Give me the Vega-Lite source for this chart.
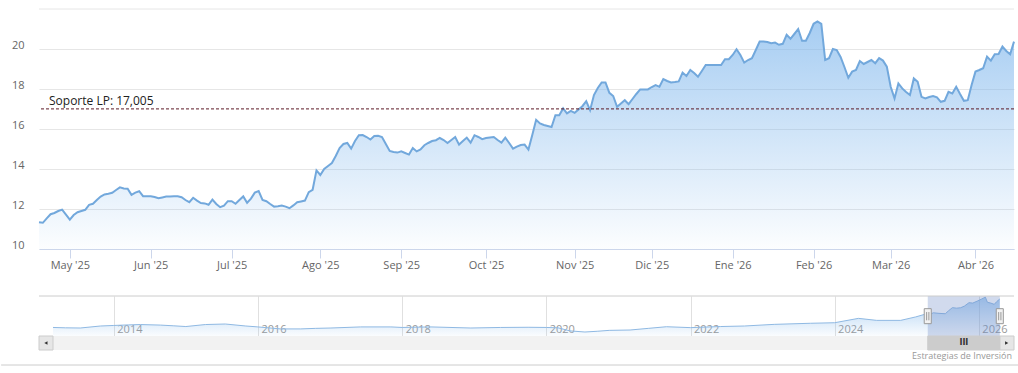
{
  "$schema": "https://vega.github.io/schema/vega-lite/v6.json",
  "background": "#ffffff",
  "padding": {"left": 0, "top": 8, "right": 0, "bottom": 0},
  "config": {
    "view": {"stroke": null},
    "font": "Open Sans",
    "axis": {"labelFont": "Open Sans", "titleFont": "Open Sans"},
    "text": {"font": "Open Sans"}
  },
  "datasets": {
    "main": [
      {"date":"2025-04-17","price":11.34},{"date":"2025-04-22","price":11.31},{"date":"2025-04-23","price":11.53},{"date":"2025-04-24","price":11.74},{"date":"2025-04-25","price":11.80},{"date":"2025-04-28","price":11.90},{"date":"2025-04-29","price":11.97},{"date":"2025-04-30","price":11.72},
      {"date":"2025-05-02","price":11.47},{"date":"2025-05-05","price":11.70},{"date":"2025-05-06","price":11.84},{"date":"2025-05-07","price":11.90},{"date":"2025-05-08","price":11.96},{"date":"2025-05-09","price":12.21},{"date":"2025-05-12","price":12.26},{"date":"2025-05-13","price":12.45},{"date":"2025-05-14","price":12.62},{"date":"2025-05-15","price":12.73},{"date":"2025-05-16","price":12.76},{"date":"2025-05-19","price":12.81},{"date":"2025-05-20","price":12.95},{"date":"2025-05-21","price":13.08},{"date":"2025-05-22","price":13.03},{"date":"2025-05-23","price":13.01},{"date":"2025-05-26","price":12.71},{"date":"2025-05-27","price":12.82},{"date":"2025-05-28","price":12.89},{"date":"2025-05-29","price":12.64},{"date":"2025-05-30","price":12.64},
      {"date":"2025-06-02","price":12.64},{"date":"2025-06-03","price":12.60},{"date":"2025-06-04","price":12.54},{"date":"2025-06-05","price":12.58},{"date":"2025-06-06","price":12.62},{"date":"2025-06-09","price":12.63},{"date":"2025-06-10","price":12.64},{"date":"2025-06-11","price":12.64},{"date":"2025-06-12","price":12.59},{"date":"2025-06-13","price":12.45},{"date":"2025-06-16","price":12.34},{"date":"2025-06-17","price":12.56},{"date":"2025-06-18","price":12.42},{"date":"2025-06-19","price":12.30},{"date":"2025-06-20","price":12.28},{"date":"2025-06-23","price":12.21},{"date":"2025-06-24","price":12.47},{"date":"2025-06-25","price":12.25},{"date":"2025-06-26","price":12.09},{"date":"2025-06-27","price":12.17},{"date":"2025-06-30","price":12.39},
      {"date":"2025-07-01","price":12.39},{"date":"2025-07-02","price":12.26},{"date":"2025-07-03","price":12.45},{"date":"2025-07-04","price":12.63},{"date":"2025-07-07","price":12.31},{"date":"2025-07-08","price":12.52},{"date":"2025-07-09","price":12.82},{"date":"2025-07-10","price":12.90},{"date":"2025-07-11","price":12.45},{"date":"2025-07-14","price":12.39},{"date":"2025-07-15","price":12.25},{"date":"2025-07-16","price":12.12},{"date":"2025-07-17","price":12.14},{"date":"2025-07-18","price":12.17},{"date":"2025-07-21","price":12.12},{"date":"2025-07-22","price":12.04},{"date":"2025-07-23","price":12.18},{"date":"2025-07-24","price":12.34},{"date":"2025-07-25","price":12.38},{"date":"2025-07-28","price":12.42},{"date":"2025-07-29","price":12.84},{"date":"2025-07-30","price":12.96},{"date":"2025-07-31","price":13.93},
      {"date":"2025-08-01","price":13.70},{"date":"2025-08-04","price":14.00},{"date":"2025-08-05","price":14.15},{"date":"2025-08-06","price":14.30},{"date":"2025-08-07","price":14.65},{"date":"2025-08-08","price":15.05},{"date":"2025-08-11","price":15.25},{"date":"2025-08-12","price":15.30},{"date":"2025-08-13","price":15.02},{"date":"2025-08-14","price":15.40},{"date":"2025-08-15","price":15.69},{"date":"2025-08-18","price":15.70},{"date":"2025-08-19","price":15.60},{"date":"2025-08-20","price":15.47},{"date":"2025-08-21","price":15.65},{"date":"2025-08-22","price":15.66},{"date":"2025-08-25","price":15.60},{"date":"2025-08-26","price":15.25},{"date":"2025-08-27","price":14.90},{"date":"2025-08-28","price":14.85},{"date":"2025-08-29","price":14.82},
      {"date":"2025-09-01","price":14.88},{"date":"2025-09-02","price":14.80},{"date":"2025-09-03","price":14.72},{"date":"2025-09-04","price":15.05},{"date":"2025-09-05","price":14.88},{"date":"2025-09-08","price":14.98},{"date":"2025-09-09","price":15.19},{"date":"2025-09-10","price":15.30},{"date":"2025-09-11","price":15.40},{"date":"2025-09-12","price":15.44},{"date":"2025-09-15","price":15.55},{"date":"2025-09-16","price":15.45},{"date":"2025-09-17","price":15.30},{"date":"2025-09-18","price":15.45},{"date":"2025-09-19","price":15.60},{"date":"2025-09-22","price":15.22},{"date":"2025-09-23","price":15.40},{"date":"2025-09-24","price":15.57},{"date":"2025-09-25","price":15.32},{"date":"2025-09-26","price":15.69},{"date":"2025-09-29","price":15.60},{"date":"2025-09-30","price":15.49},
      {"date":"2025-10-01","price":15.55},{"date":"2025-10-02","price":15.58},{"date":"2025-10-03","price":15.60},{"date":"2025-10-06","price":15.45},{"date":"2025-10-07","price":15.32},{"date":"2025-10-08","price":15.57},{"date":"2025-10-09","price":15.30},{"date":"2025-10-10","price":15.02},{"date":"2025-10-13","price":15.12},{"date":"2025-10-14","price":15.20},{"date":"2025-10-15","price":15.22},{"date":"2025-10-16","price":14.97},{"date":"2025-10-17","price":15.70},{"date":"2025-10-20","price":16.46},{"date":"2025-10-21","price":16.28},{"date":"2025-10-22","price":16.20},{"date":"2025-10-23","price":16.15},{"date":"2025-10-24","price":16.10},{"date":"2025-10-27","price":16.69},{"date":"2025-10-28","price":16.69},{"date":"2025-10-29","price":17.03},{"date":"2025-10-30","price":16.78},{"date":"2025-10-31","price":16.91},
      {"date":"2025-11-03","price":16.81},{"date":"2025-11-04","price":16.98},{"date":"2025-11-05","price":17.14},{"date":"2025-11-06","price":17.39},{"date":"2025-11-07","price":16.94},{"date":"2025-11-10","price":17.70},{"date":"2025-11-11","price":18.05},{"date":"2025-11-12","price":18.33},{"date":"2025-11-13","price":18.33},{"date":"2025-11-14","price":17.81},{"date":"2025-11-17","price":17.65},{"date":"2025-11-18","price":17.11},{"date":"2025-11-19","price":17.28},{"date":"2025-11-20","price":17.44},{"date":"2025-11-21","price":17.24},{"date":"2025-11-24","price":17.50},{"date":"2025-11-25","price":17.75},{"date":"2025-11-26","price":17.98},{"date":"2025-11-27","price":17.98},{"date":"2025-11-28","price":17.98},
      {"date":"2025-12-01","price":18.10},{"date":"2025-12-02","price":18.20},{"date":"2025-12-03","price":18.11},{"date":"2025-12-04","price":18.50},{"date":"2025-12-05","price":18.40},{"date":"2025-12-08","price":18.33},{"date":"2025-12-09","price":18.35},{"date":"2025-12-10","price":18.38},{"date":"2025-12-11","price":18.82},{"date":"2025-12-12","price":18.65},{"date":"2025-12-15","price":18.95},{"date":"2025-12-16","price":18.80},{"date":"2025-12-17","price":18.61},{"date":"2025-12-18","price":18.90},{"date":"2025-12-19","price":19.20},{"date":"2025-12-22","price":19.20},{"date":"2025-12-23","price":19.20},{"date":"2025-12-24","price":19.20},{"date":"2025-12-29","price":19.20},{"date":"2025-12-30","price":19.49},{"date":"2025-12-31","price":19.49},
      {"date":"2026-01-02","price":19.70},{"date":"2026-01-05","price":19.99},{"date":"2026-01-06","price":19.70},{"date":"2026-01-07","price":19.32},{"date":"2026-01-08","price":19.45},{"date":"2026-01-09","price":19.54},{"date":"2026-01-12","price":19.95},{"date":"2026-01-13","price":20.37},{"date":"2026-01-14","price":20.37},{"date":"2026-01-15","price":20.35},{"date":"2026-01-16","price":20.29},{"date":"2026-01-19","price":20.32},{"date":"2026-01-20","price":20.21},{"date":"2026-01-21","price":20.26},{"date":"2026-01-22","price":20.71},{"date":"2026-01-23","price":20.51},{"date":"2026-01-26","price":20.75},{"date":"2026-01-27","price":21.00},{"date":"2026-01-28","price":20.41},{"date":"2026-01-29","price":20.41},{"date":"2026-01-30","price":20.80},
      {"date":"2026-02-02","price":21.26},{"date":"2026-02-03","price":21.38},{"date":"2026-02-04","price":21.26},{"date":"2026-02-05","price":19.45},{"date":"2026-02-06","price":19.54},{"date":"2026-02-09","price":20.00},{"date":"2026-02-10","price":19.95},{"date":"2026-02-11","price":19.60},{"date":"2026-02-12","price":19.10},{"date":"2026-02-13","price":18.56},{"date":"2026-02-16","price":18.87},{"date":"2026-02-17","price":18.95},{"date":"2026-02-18","price":19.40},{"date":"2026-02-19","price":19.25},{"date":"2026-02-20","price":19.35},{"date":"2026-02-23","price":19.45},{"date":"2026-02-24","price":19.29},{"date":"2026-02-25","price":19.54},{"date":"2026-02-26","price":19.42},{"date":"2026-02-27","price":19.12},
      {"date":"2026-03-02","price":18.11},{"date":"2026-03-03","price":17.53},{"date":"2026-03-04","price":18.28},{"date":"2026-03-05","price":18.03},{"date":"2026-03-06","price":17.85},{"date":"2026-03-09","price":17.70},{"date":"2026-03-10","price":18.53},{"date":"2026-03-11","price":18.36},{"date":"2026-03-12","price":17.61},{"date":"2026-03-13","price":17.53},{"date":"2026-03-16","price":17.60},{"date":"2026-03-17","price":17.65},{"date":"2026-03-18","price":17.58},{"date":"2026-03-19","price":17.36},{"date":"2026-03-20","price":17.41},{"date":"2026-03-23","price":17.86},{"date":"2026-03-24","price":17.78},{"date":"2026-03-25","price":18.11},{"date":"2026-03-26","price":17.75},{"date":"2026-03-27","price":17.41},{"date":"2026-03-30","price":17.44},{"date":"2026-03-31","price":18.20},
      {"date":"2026-04-01","price":18.87},{"date":"2026-04-02","price":18.95},{"date":"2026-04-07","price":19.04},{"date":"2026-04-08","price":19.62},{"date":"2026-04-09","price":19.42},{"date":"2026-04-10","price":19.74},{"date":"2026-04-13","price":19.75},{"date":"2026-04-14","price":20.12},{"date":"2026-04-15","price":19.90},{"date":"2026-04-16","price":19.74},{"date":"2026-04-17","price":20.37}
    ],
    "nav": [
      {"date":"2013-02-27","price":4.7},{"date":"2013-05-01","price":4.5},{"date":"2013-07-15","price":4.4},{"date":"2013-10-25","price":5.5},{"date":"2014-01-01","price":5.8},{"date":"2014-03-15","price":6.1},{"date":"2014-05-15","price":6.3},{"date":"2014-08-25","price":6.0},{"date":"2014-11-01","price":5.6},{"date":"2015-01-01","price":5.2},{"date":"2015-04-10","price":6.3},{"date":"2015-07-20","price":6.6},{"date":"2015-11-01","price":5.5},{"date":"2016-01-01","price":5.0},{"date":"2016-04-25","price":3.9},{"date":"2016-08-05","price":3.9},{"date":"2016-10-20","price":4.2},{"date":"2017-01-05","price":4.4},{"date":"2017-06-05","price":5.0},{"date":"2017-11-05","price":5.0},{"date":"2018-01-01","price":4.7},{"date":"2018-05-25","price":5.0},{"date":"2018-12-15","price":4.4},{"date":"2019-05-15","price":4.7},{"date":"2019-10-01","price":4.8},{"date":"2020-01-01","price":4.7},{"date":"2020-03-01","price":4.5},{"date":"2020-05-01","price":2.8},{"date":"2020-07-15","price":2.2},{"date":"2020-09-15","price":2.6},{"date":"2020-11-15","price":3.1},{"date":"2021-03-01","price":3.3},{"date":"2021-06-01","price":4.2},{"date":"2021-09-01","price":5.1},{"date":"2022-01-01","price":4.6},{"date":"2022-06-01","price":5.2},{"date":"2022-10-01","price":5.5},{"date":"2023-03-01","price":6.4},{"date":"2023-09-01","price":7.0},{"date":"2024-01-01","price":7.3},{"date":"2024-05-01","price":9.7},{"date":"2024-08-01","price":8.6},{"date":"2024-12-01","price":8.6},{"date":"2025-02-15","price":10.5},{"date":"2025-04-01","price":11.9},{"date":"2025-04-17","price":11.34},{"date":"2025-05-15","price":12.76},{"date":"2025-06-13","price":12.45},{"date":"2025-07-15","price":12.25},{"date":"2025-08-01","price":13.93},{"date":"2025-08-20","price":15.6},{"date":"2025-09-10","price":15.3},{"date":"2025-10-01","price":15.55},{"date":"2025-10-20","price":16.46},{"date":"2025-11-12","price":18.33},{"date":"2025-12-01","price":18.1},{"date":"2025-12-24","price":19.2},{"date":"2026-01-15","price":20.35},{"date":"2026-02-03","price":21.38},{"date":"2026-02-13","price":18.56},{"date":"2026-03-02","price":18.11},{"date":"2026-03-20","price":17.41},{"date":"2026-04-01","price":18.87},{"date":"2026-04-17","price":20.37}
    ]
  },
  "spacing": 47,
  "bounds": "flush",
  "vconcat": [
    {
      "width": 975,
      "height": 240,
      "encoding": {
        "y": {"field": "price", "type": "quantitative",
          "scale": {"domain": [10, 22], "nice": false, "zero": false},
          "axis": {
            "title": null, "values": [10, 12, 14, 16, 18, 20],
            "domain": false, "ticks": false, "gridColor": "#e6e6e6",
            "labelPadding": 15, "labelColor": "#666666", "labelFontSize": 11,
            "labelBaseline": "alphabetic", "labelOffset": -1, "labelOverlap": false
          }}
      },
      "layer": [
        {
          "data": {"values": [{"price": 22}]},
          "mark": {"type": "rule", "color": "#e6e6e6", "strokeWidth": 1}
        },
        {
          "data": {"name": "main"},
          "mark": {
            "type": "area",
            "color": {"gradient": "linear", "x1": 0, "y1": 0, "x2": 0, "y2": 1,
              "stops": [{"offset": 0, "color": "rgba(124,181,236,0.97)"}, {"offset": 1, "color": "rgba(124,181,236,0.03)"}]},
            "line": {"color": "#72a8dc", "strokeWidth": 2}
          },
          "encoding": {
            "x": {"field": "date", "type": "ordinal", "scale": {"type": "point", "padding": 0},
              "axis": {
                "title": null,
                "values": ["2025-05-02","2025-06-02","2025-07-01","2025-08-01","2025-09-01","2025-10-01","2025-11-03","2025-12-01","2026-01-02","2026-02-02","2026-03-02","2026-04-01"],
                "labelExpr": "['Ene','Feb','Mar','Abr','May','Jun','Jul','Ago','Sep','Oct','Nov','Dic'][toNumber(substring(datum.value,5,7))-1] + \" '\" + substring(datum.value,2,4)",
                "labelAngle": 0, "grid": false,
                "domainColor": "#ccd6eb", "tickColor": "#ccd6eb", "tickSize": 9,
                "labelPadding": 1, "labelColor": "#666666", "labelFontSize": 11, "labelOverlap": false
              }},
            "y2": {"datum": 10}
          }
        },
        {
          "data": {"values": [{"date": "2025-04-17", "price": 17.005, "label": "Soporte LP: 17,005"}]},
          "mark": {"type": "rule", "color": "#5c1a26", "strokeDash": [3, 2], "strokeWidth": 1}
        },
        {
          "data": {"values": [{"date": "2025-04-17", "price": 17.005, "label": "Soporte LP: 17,005"}]},
          "mark": {"type": "text", "align": "left", "baseline": "alphabetic", "dx": 10, "dy": -4, "fontSize": 12, "color": "#222222"},
          "encoding": {
            "x": {"field": "date", "type": "ordinal"},
            "text": {"field": "label"}
          }
        }
      ]
    },
    {
      "spacing": 0,
      "bounds": "flush",
      "vconcat": [
        {
          "width": 975,
          "height": 40,
          "layer": [
            {
              "data": {"name": "nav"},
              "mark": {
                "type": "area",
                "color": {"gradient": "linear", "x1": 0, "y1": 0, "x2": 0, "y2": 1,
                  "stops": [{"offset": 0, "color": "rgba(124,181,236,0.9)"}, {"offset": 1, "color": "rgba(124,181,236,0.05)"}]},
                "line": {"color": "#8fb9e3", "strokeWidth": 1}
              },
              "encoding": {
                "x": {"field": "date", "type": "temporal",
                  "scale": {"domain": [{"year": 2012, "month": 12, "date": 18}, {"year": 2026, "month": 6, "date": 28}]},
                  "axis": {
                    "title": null,
                    "values": [{"year": 2014, "month": 1, "date": 1}, {"year": 2016, "month": 1, "date": 1}, {"year": 2018, "month": 1, "date": 1}, {"year": 2020, "month": 1, "date": 1}, {"year": 2022, "month": 1, "date": 1}, {"year": 2024, "month": 1, "date": 1}, {"year": 2026, "month": 1, "date": 1}],
                    "format": "%Y", "grid": true, "gridColor": "#e0e0e0", "domain": false, "ticks": false, "tickSize": 0,
                    "labelAlign": "left", "labelOffset": 3, "labelPadding": -4, "labelBaseline": "alphabetic",
                    "labelColor": "#999999", "labelFontSize": 11, "labelFlush": false, "labelOverlap": false
                  }},
                "y": {"field": "price", "type": "quantitative", "scale": {"domain": [0, 22], "nice": false, "zero": false}, "axis": null},
                "y2": {"datum": 0}
              }
            },
            {
              "data": {"values": [{"start": "2025-04-17", "end": "2026-04-17", "lo": 0, "hi": 22}]},
              "mark": {"type": "rect", "color": "#6685c2", "opacity": 0.3},
              "encoding": {
                "x": {"field": "start", "type": "temporal"},
                "x2": {"field": "end"},
                "y": {"field": "lo", "type": "quantitative"},
                "y2": {"field": "hi"}
              }
            },
            {
              "data": {"values": [{"top": 22}]},
              "mark": {"type": "rule", "color": "#cccccc", "strokeWidth": 1},
              "encoding": {"y": {"field": "top", "type": "quantitative"}}
            },
            {
              "data": {"values": [{"date": "2025-04-17", "level": 10.9}, {"date": "2026-04-17", "level": 10.9}]},
              "mark": {"type": "point", "shape": "M-0.47,-1H0.47V1H-0.47Z M-0.15,-0.55V0.55 M0.15,-0.55V0.55", "size": 225, "filled": true, "fill": "#f2f2f2", "stroke": "#999999", "strokeWidth": 1, "opacity": 1},
              "encoding": {
                "x": {"field": "date", "type": "temporal"},
                "y": {"field": "level", "type": "quantitative"}
              }
            }
          ]
        },
        {
          "width": 975,
          "height": 14,
          "layer": [
            {
              "data": {"values": [{"start": "2012-12-18", "end": "2026-06-28", "lo": 0, "hi": 1}]},
              "mark": {"type": "rect", "fill": "#f2f2f2"},
              "encoding": {
                "x": {"field": "start", "type": "temporal",
                  "scale": {"domain": [{"year": 2012, "month": 12, "date": 18}, {"year": 2026, "month": 6, "date": 28}]},
                  "axis": null},
                "x2": {"field": "end"},
                "y": {"field": "lo", "type": "quantitative", "scale": {"domain": [0, 1]}, "axis": null},
                "y2": {"field": "hi"}
              }
            },
            {
              "data": {"values": [{"start": "2012-12-18", "end": "2013-02-27", "lo": 0, "hi": 1}, {"start": "2026-04-17", "end": "2026-06-28", "lo": 0, "hi": 1}]},
              "mark": {"type": "rect", "fill": "#e6e6e6", "stroke": "#cccccc", "strokeWidth": 1},
              "encoding": {
                "x": {"field": "start", "type": "temporal", "axis": null},
                "x2": {"field": "end"},
                "y": {"field": "lo", "type": "quantitative", "axis": null},
                "y2": {"field": "hi"}
              }
            },
            {
              "data": {"values": [{"start": "2025-04-17", "end": "2026-04-17", "lo": 0, "hi": 1}]},
              "mark": {"type": "rect", "fill": "#cccccc", "stroke": "#cccccc", "strokeWidth": 1},
              "encoding": {
                "x": {"field": "start", "type": "temporal", "axis": null},
                "x2": {"field": "end"},
                "y": {"field": "lo", "type": "quantitative", "axis": null},
                "y2": {"field": "hi"}
              }
            },
            {
              "data": {"values": [{"date": "2025-10-17", "mid": 0.5, "grip": "III"}]},
              "mark": {"type": "text", "fontSize": 8, "fontWeight": "bold", "color": "#333333", "baseline": "middle", "align": "center", "font": "DejaVu Sans"},
              "encoding": {
                "x": {"field": "date", "type": "temporal", "axis": null},
                "y": {"field": "mid", "type": "quantitative", "axis": null},
                "text": {"field": "grip"}
              }
            },
            {
              "data": {"values": [{"date": "2013-01-22", "mid": 0.5, "dir": "triangle-left"}, {"date": "2026-05-22", "mid": 0.5, "dir": "triangle-right"}]},
              "mark": {"type": "point", "filled": true, "size": 14, "color": "#333333", "opacity": 1},
              "encoding": {
                "x": {"field": "date", "type": "temporal", "axis": null},
                "y": {"field": "mid", "type": "quantitative", "axis": null},
                "shape": {"field": "dir", "type": "nominal", "scale": {"domain": ["triangle-left", "triangle-right"], "range": ["triangle-left", "triangle-right"]}, "legend": null}
              }
            },
            {
              "data": {"values": [{"date": "2026-06-28", "mid": 0.5, "credit": "Estrategias de Inversión"}]},
              "mark": {"type": "text", "fontSize": 9, "color": "#999999", "align": "right", "baseline": "alphabetic", "dx": -2, "dy": 16},
              "encoding": {
                "x": {"field": "date", "type": "temporal", "axis": null},
                "y": {"field": "mid", "type": "quantitative", "axis": null},
                "text": {"field": "credit"}
              }
            },
            {
              "data": {"values": [{"start": "2012-06-09", "end": "2026-07-23", "lo": 0}]},
              "mark": {"type": "rule", "color": "#cccccc", "strokeWidth": 1, "yOffset": 15},
              "encoding": {
                "x": {"field": "start", "type": "temporal", "axis": null},
                "x2": {"field": "end"},
                "y": {"field": "lo", "type": "quantitative", "axis": null}
              }
            }
          ]
        }
      ]
    }
  ]
}
